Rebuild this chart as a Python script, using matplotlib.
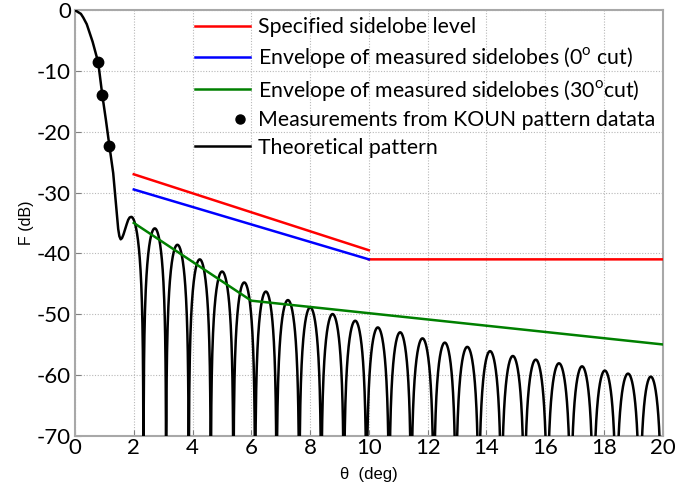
import numpy as np
import matplotlib
matplotlib.use("Agg")
import matplotlib.pyplot as plt
from matplotlib.lines import Line2D
from matplotlib.legend_handler import HandlerLine2D

# ---------------- data ----------------
# main lobe + filled first null + rise to first sidelobe peak
main_theta = [0.0, 0.2, 0.28, 0.4, 0.6, 0.79, 0.93, 1.05, 1.17, 1.30, 1.42, 1.47,
              1.51, 1.555, 1.60, 1.65, 1.70, 1.76, 1.81, 1.86, 1.91]
main_F = [0.0, -0.6, -1.2, -2.3, -5.2, -8.6, -14.0, -18.0, -22.3, -26.8, -33.4, -36.0,
          -37.2, -37.7, -37.5, -36.9, -36.1, -35.2, -34.5, -34.1, -34.0]

first_peak_theta = 1.91
first_peak_F = -34.0

# null positions of the sidelobes (deg)
null_theta = [2.33, 3.10, 3.87, 4.62, 5.39, 6.13, 6.86, 7.63, 8.38, 9.15, 9.92, 10.69,
              11.44, 12.21, 12.96, 13.74, 14.51, 15.29, 16.07, 16.87, 17.64, 18.42,
              19.22, 19.97]
# sidelobe peak levels between consecutive nulls (dB)
peak_F = [-35.9, -38.6, -41.0, -43.0, -44.8, -46.3, -47.7, -48.9, -50.0, -51.1, -52.2,
          -53.0, -54.0, -54.7, -55.4, -56.1, -56.9, -57.5, -58.1, -58.6, -59.3, -59.8,
          -60.3]

# measurements
meas_theta = [0.79, 0.93, 1.17]
meas_F = [-8.6, -14.0, -22.3]

# envelopes
spec_theta = [2, 10, np.nan, 10, 20]
spec_F = [-27.0, -39.5, np.nan, -41.0, -41.0]
env0_theta = [2, 10]
env0_F = [-29.5, -41.0]
env30_theta = [2, 6, 20]
env30_F = [-35.0, -47.8, -55.0]

labels = ["Specified sidelobe level",
          r"Envelope of measured sidelobes (0$^\mathregular{o}$ cut)",
          r"Envelope of measured sidelobes (30$^\mathregular{o}$cut)",
          "Measurements from KOUN pattern datata",
          "Theoretical pattern"]

# ---------------- build theoretical curve (lobe shapes) ----------------
def lobe(a, b, peak, t0=None, n=120):
    t = np.linspace(a if t0 is None else t0, b, n)
    s = np.abs(np.sin(np.pi * (t - a) / (b - a)))
    return t, peak + 20 * np.log10(np.maximum(s, 1e-6))

th_parts = [np.array(main_theta)]
F_parts = [np.array(main_F)]
a0 = 2 * first_peak_theta - null_theta[0]
t, f = lobe(a0, null_theta[0], first_peak_F, t0=first_peak_theta)
th_parts.append(t); F_parts.append(f)
for i in range(len(null_theta) - 1):
    t, f = lobe(null_theta[i], null_theta[i + 1], peak_F[i])
    th_parts.append(t); F_parts.append(f)
theo_theta = np.concatenate(th_parts)
theo_F = np.clip(np.concatenate(F_parts), -120, 5)


class RightMarkerHandler(HandlerLine2D):
    def create_artists(self, legend, orig_handle, xdescent, ydescent, width,
                       height, fontsize, trans):
        arts = super().create_artists(legend, orig_handle, xdescent, ydescent,
                                      width, height, fontsize, trans)
        for a in arts:
            a.set_xdata([width * 0.82 - xdescent])
        return arts


# ---------------- plot ----------------
plt.rcParams['font.family'] = ['Lato', 'DejaVu Sans']
plt.rcParams['axes.unicode_minus'] = False
fig = plt.figure(figsize=(6.78, 4.92), dpi=100)
ax = fig.add_axes([75/678, 1 - 435.6/492, 587.7/678, 425.4/492])

ax.plot(theo_theta, theo_F, color='black', lw=1.8, zorder=3)
ax.plot(spec_theta, spec_F, color='#ff0000', lw=1.8, zorder=4)
ax.plot(env0_theta, env0_F, color='#0000ff', lw=1.8, zorder=4)
ax.plot(env30_theta, env30_F, color='#008000', lw=1.8, zorder=5)
ax.plot(meas_theta, meas_F, 'o', color='black', ms=7.5, zorder=6)

ax.set_xlim(0, 20)
ax.set_ylim(-70, 0)
ax.set_xticks(np.arange(0, 21, 2))
ax.set_yticks(np.arange(-70, 1, 10))
ax.grid(True, color='#b8b8b8', linestyle=(0, (1, 1.5)), lw=0.8)
for s in ax.spines.values():
    s.set_color('#a8a8a8')
    s.set_linewidth(1.5)
ax.tick_params(direction='in', length=4, color='#808080', labelsize=16, pad=2)
ax.tick_params(axis='y', pad=3)

ax.set_xlabel("\u03b8  (deg)", family=['Liberation Sans', 'DejaVu Sans'], fontsize=12, labelpad=6)
ax.set_ylabel("F (dB)", family=['Liberation Sans', 'DejaVu Sans'], fontsize=11.5, labelpad=2)

# fit legend font so the longest label is ~400 px wide, as in the reference
renderer = fig.canvas.get_renderer()
probe = fig.text(0, 0, labels[3], fontsize=16)
w16 = probe.get_window_extent(renderer).width
probe.remove()
leg_fs = 16 * 398 / w16
fs_px = leg_fs * 100 / 72
handle_px = 55
pad_px = 8
row_px = 30
ls = max((row_px - 1.05 * fs_px) / fs_px, 0.0)

meas_handle = Line2D([], [], color='black', marker='o', ls='none', ms=6.5)
handles = [Line2D([], [], color='#ff0000', lw=1.8),
           Line2D([], [], color='#0000ff', lw=1.8),
           Line2D([], [], color='#008000', lw=1.8),
           meas_handle,
           Line2D([], [], color='black', lw=1.8)]
leg = ax.legend(handles, labels, loc='upper left',
                bbox_to_anchor=((193 - 75) / 587.7, 1.0 - 5 / 425.4),
                frameon=False, fontsize=leg_fs, handlelength=handle_px / fs_px,
                handletextpad=pad_px / fs_px,
                labelspacing=ls, borderaxespad=0.0, borderpad=0.1, numpoints=1,
                handler_map={meas_handle: RightMarkerHandler()})

fig.savefig("out.png", dpi=100)
